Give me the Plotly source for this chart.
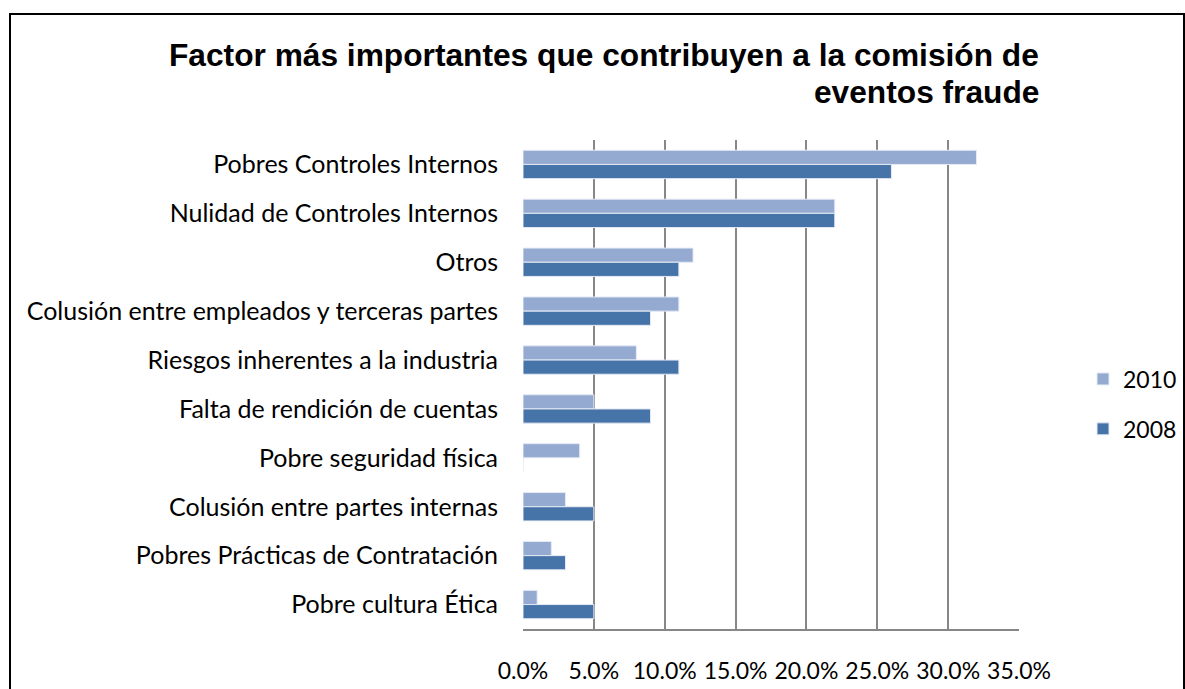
import plotly.graph_objects as go

categories = [
    "Pobres Controles Internos",
    "Nulidad de Controles Internos",
    "Otros",
    "Colusión entre empleados y terceras partes",
    "Riesgos inherentes a la industria",
    "Falta de rendición de cuentas",
    "Pobre seguridad física",
    "Colusión entre partes internas",
    "Pobres Prácticas de Contratación",
    "Pobre cultura Ética",
]
values_2010 = [0.32, 0.22, 0.12, 0.11, 0.08, 0.05, 0.04, 0.03, 0.02, 0.01]
values_2008 = [0.26, 0.22, 0.11, 0.09, 0.11, 0.09, 0.0, 0.05, 0.03, 0.05]
x_ticks = [0, 0.05, 0.10, 0.15, 0.20, 0.25, 0.30, 0.35]
title_lines = ["Factor más importantes que contribuyen a la comisión de", "eventos fraude"]

W, H = 1185, 689
L, R, T, B = 523, 166, 140, 60
pw, ph = W - L - R, H - T - B

def px_x(x):
    return (x - L) / pw

def px_y(y):
    return (H - B - y) / ph

LABEL_FONT = "Lato, Carlito, Calibri, sans-serif"

fig = go.Figure()
fig.add_trace(go.Bar(
    y=categories, x=values_2010, name="2010", orientation="h",
    marker=dict(color="#95AAD1", line=dict(color="#E4EAF4", width=1)),
    legendgroup="a",
))
fig.add_trace(go.Bar(
    y=categories, x=values_2008, name="2008", orientation="h",
    marker=dict(color="#4673A8", line=dict(color="#E4EAF4", width=1)),
    legendgroup="b",
))

title_y = [55, 92]
annotations = [
    dict(
        text="<b>" + line + "</b>", x=px_x(1041), y=px_y(yc),
        xref="paper", yref="paper", xanchor="right", yanchor="middle",
        align="right", showarrow=False,
        font=dict(family="Liberation Sans, Arial, sans-serif", size=31.7, color="#000000"),
    )
    for line, yc in zip(title_lines, title_y)
]

fig.update_layout(
    width=W, height=H,
    margin=dict(l=L, r=R, t=T, b=B, autoexpand=False),
    paper_bgcolor="white", plot_bgcolor="white",
    barmode="group", bargap=0.42, bargroupgap=0,
    font=dict(family=LABEL_FONT, size=23, color="#000000"),
    xaxis=dict(
        range=[0, 0.35], tickvals=x_ticks, tickformat=".1%",
        showgrid=True, gridcolor="#878787", gridwidth=2,
        showline=True, linecolor="#878787", linewidth=2,
        zeroline=False, ticks="", ticklabelstandoff=20,
        tickfont=dict(family=LABEL_FONT, size=23, color="#000000"),
    ),
    yaxis=dict(
        autorange="reversed", showgrid=False, zeroline=False,
        showline=False, ticks="", ticklabelstandoff=24,
        tickfont=dict(family=LABEL_FONT, size=25, color="#000000"),
    ),
    legend=dict(
        x=px_x(1083), y=px_y(404), xanchor="left", yanchor="middle",
        traceorder="grouped", tracegroupgap=17,
        font=dict(family=LABEL_FONT, size=23, color="#000000"),
        bgcolor="rgba(0,0,0,0)",
    ),
    annotations=annotations,
    shapes=[dict(
        type="rect", xref="paper", yref="paper",
        x0=px_x(10), x1=px_x(1184), y0=px_y(700), y1=px_y(14),
        line=dict(color="#000000", width=2), fillcolor="rgba(0,0,0,0)",
        layer="below",
    )],
)

fig.write_html("out.html")
